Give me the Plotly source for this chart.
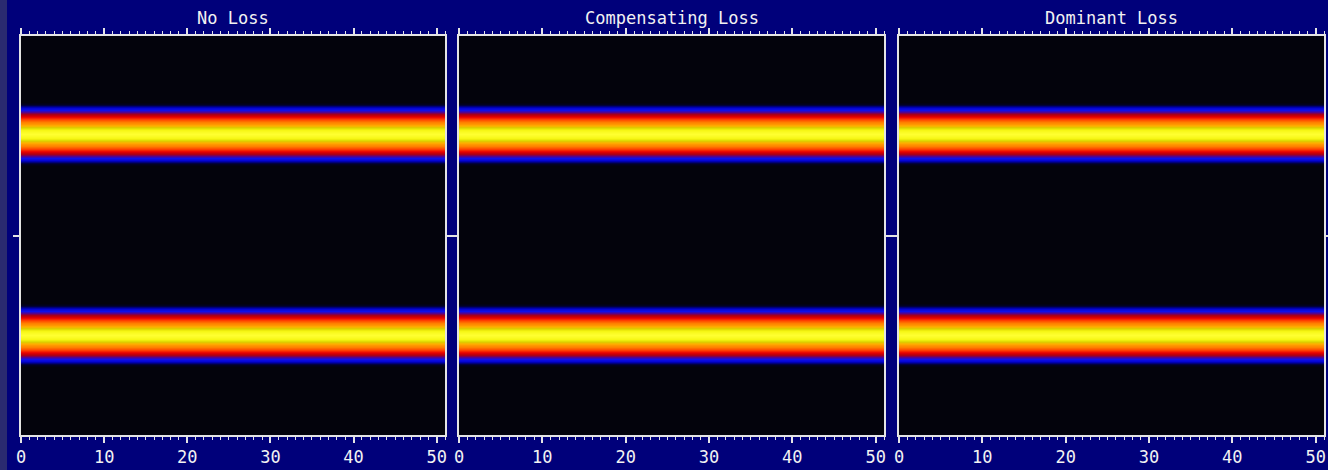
import numpy as np
import plotly.graph_objects as go

# ---- data ----
panel_titles = ["No Loss", "Compensating Loss", "Dominant Loss"]
x_range = [0, 51]
x_cols = [0, 51]                      # intensity is constant along x
y_range = [0, 100]
band_centers = [75.5, 25.0]           # y position of the two bands
# intensity at offsets 0, 0.5, 1.0 ... units from the band centre
band_profile = [1.0, 0.98, 0.95, 0.9, 0.82, 0.75, 0.7, 0.64, 0.57,
                0.5, 0.43, 0.34, 0.28, 0.23, 0.13, 0.03, 0.0]
y_step = 0.5
x_tickvals = [0, 10, 20, 30, 40, 50]
y_tickvals = [50]

# build the image rows from the band profile
y_rows = np.arange(y_range[0], y_range[1] + y_step, y_step)
z_col = np.zeros(len(y_rows))
for c in band_centers:
    for k, v in enumerate(band_profile):
        for s in (1, -1):
            idx = int(round((c + s * k * y_step - y_range[0]) / y_step))
            if 0 <= idx < len(z_col):
                z_col[idx] = max(z_col[idx], v)
z = [[v] * len(x_cols) for v in z_col]

colorscale = [
    [0.0, "#03030c"],
    [0.08, "#000040"],
    [0.2, "#0000c8"],
    [0.28, "#1010e8"],
    [0.36, "#6a0070"],
    [0.44, "#b00010"],
    [0.52, "#e80000"],
    [0.6, "#ff3a00"],
    [0.7, "#ff8000"],
    [0.8, "#ffb000"],
    [0.88, "#d8d000"],
    [0.94, "#f4f410"],
    [1.0, "#ffff30"],
]

W, H = 1328, 470
px_dom = [(21, 445), (459, 884), (899, 1324)]
y_dom = [1 - 435 / H, 1 - 36 / H]

fig = go.Figure()
line_col = "#e4e4e4"
font = dict(family="DejaVu Sans Mono", size=17, color="#f2f2f2")

for i, title in enumerate(panel_titles):
    n = "" if i == 0 else str(i + 1)
    fig.add_trace(go.Heatmap(
        x=x_cols, y=y_rows, z=z, zmin=0, zmax=1,
        colorscale=colorscale, showscale=False, zsmooth="best",
        xaxis="x" + n, yaxis="y" + n, hoverinfo="skip",
    ))
    fig.layout["xaxis" + n] = dict(
        domain=[px_dom[i][0] / W, px_dom[i][1] / W], range=x_range,
        anchor="y" + n, showgrid=False, zeroline=False, automargin=False,
        showline=True, linecolor=line_col, linewidth=2, mirror="allticks",
        ticks="outside", ticklen=6, tickwidth=1.5, tickcolor=line_col,
        tickvals=x_tickvals, tickfont=font, ticklabelstandoff=0,
        minor=dict(dtick=1, ticks="outside", ticklen=3, tickwidth=1,
                   tickcolor=line_col, showgrid=False),
    )
    fig.layout["yaxis" + n] = dict(
        domain=y_dom, range=y_range, anchor="x" + n, automargin=False,
        showgrid=False, zeroline=False, showticklabels=False,
        showline=True, linecolor=line_col, linewidth=2, mirror="allticks",
        ticks="outside", ticklen=6, tickwidth=1.5, tickcolor=line_col,
        tickvals=y_tickvals,
    )
    fig.add_annotation(
        text=title, xref="paper", yref="paper",
        x=(px_dom[i][0] + px_dom[i][1]) / 2 / W, y=1 - 18 / H,
        xanchor="center", yanchor="middle", showarrow=False, font=font,
    )

# lighter strip at the far left edge of the window
fig.add_shape(type="rect", xref="paper", yref="paper",
              x0=0, x1=7 / W, y0=0, y1=1, fillcolor="#2a2a70",
              line_width=0, layer="below")

fig.update_layout(
    width=W, height=H, margin=dict(l=0, r=0, t=0, b=0, autoexpand=False),
    paper_bgcolor="#00007a", plot_bgcolor="#03030c",
    showlegend=False,
)

fig.write_html(
    "out.html",
    config={"displayModeBar": False},
    post_script="document.body.style.margin='0';"
                "document.body.style.overflow='hidden';"
                "document.body.style.background='#00007a';",
)
